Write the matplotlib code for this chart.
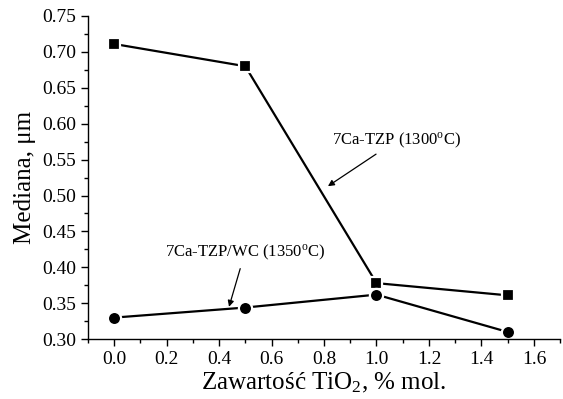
import matplotlib
matplotlib.use("Agg")
import matplotlib.pyplot as plt
from matplotlib.ticker import MultipleLocator, FormatStrFormatter

plt.rcParams.update({
    "font.family": ["Liberation Serif", "DejaVu Serif"],
    "mathtext.fontset": "custom",
    "mathtext.rm": "Liberation Serif",
    "mathtext.it": "Liberation Serif:italic",
})

tio2 = [0.0, 0.5, 1.0, 1.5]
tzp_1300 = [0.711, 0.680, 0.378, 0.361]
tzp_wc_1350 = [0.330, 0.344, 0.362, 0.310]

fig = plt.figure(figsize=(5.63, 3.99), dpi=100)
ax = fig.add_axes([0.156, 0.150, 0.839, 0.810])

# white marker edges leave a small gap where the line meets each symbol
style = dict(color="black", lw=1.6, markeredgecolor="white",
             markeredgewidth=1.6, markerfacecolor="black")
ax.plot(tio2, tzp_1300, marker="s", markersize=8.5, **style)
ax.plot(tio2, tzp_wc_1350, marker="o", markersize=9.5, **style)

ax.set_xlim(-0.1, 1.7)
ax.set_ylim(0.30, 0.75)
ax.xaxis.set_major_locator(MultipleLocator(0.2))
ax.xaxis.set_minor_locator(MultipleLocator(0.1))
ax.yaxis.set_major_locator(MultipleLocator(0.05))
ax.yaxis.set_minor_locator(MultipleLocator(0.025))
ax.xaxis.set_major_formatter(FormatStrFormatter("%.1f"))
ax.yaxis.set_major_formatter(FormatStrFormatter("%.2f"))

for side in ("top", "right"):
    ax.spines[side].set_visible(False)
for side in ("left", "bottom"):
    ax.spines[side].set_linewidth(1.0)
ax.tick_params(which="major", direction="out", length=5, width=1.0, labelsize=14)
ax.tick_params(which="minor", direction="out", length=3, width=1.0)

ax.set_xlabel("Zawartość TiO$_2$, % mol.", fontsize=18, labelpad=2)
ax.set_ylabel("Mediana, μm", fontsize=18, labelpad=4)

ax.annotate("7Ca-TZP (1300$^{\\rm o}$C)", xy=(0.815, 0.513), xytext=(1.078, 0.577),
            ha="center", va="center", fontsize=12,
            arrowprops=dict(arrowstyle="-|>", color="black", lw=0.9,
                            mutation_scale=9, shrinkA=2, shrinkB=0))
ax.annotate("7Ca-TZP/WC (1350$^{\\rm o}$C)", xy=(0.438, 0.345), xytext=(0.499, 0.421),
            ha="center", va="center", fontsize=12,
            arrowprops=dict(arrowstyle="-|>", color="black", lw=0.9,
                            mutation_scale=9, shrinkA=3, shrinkB=0))

fig.savefig("out.png", dpi=100)
